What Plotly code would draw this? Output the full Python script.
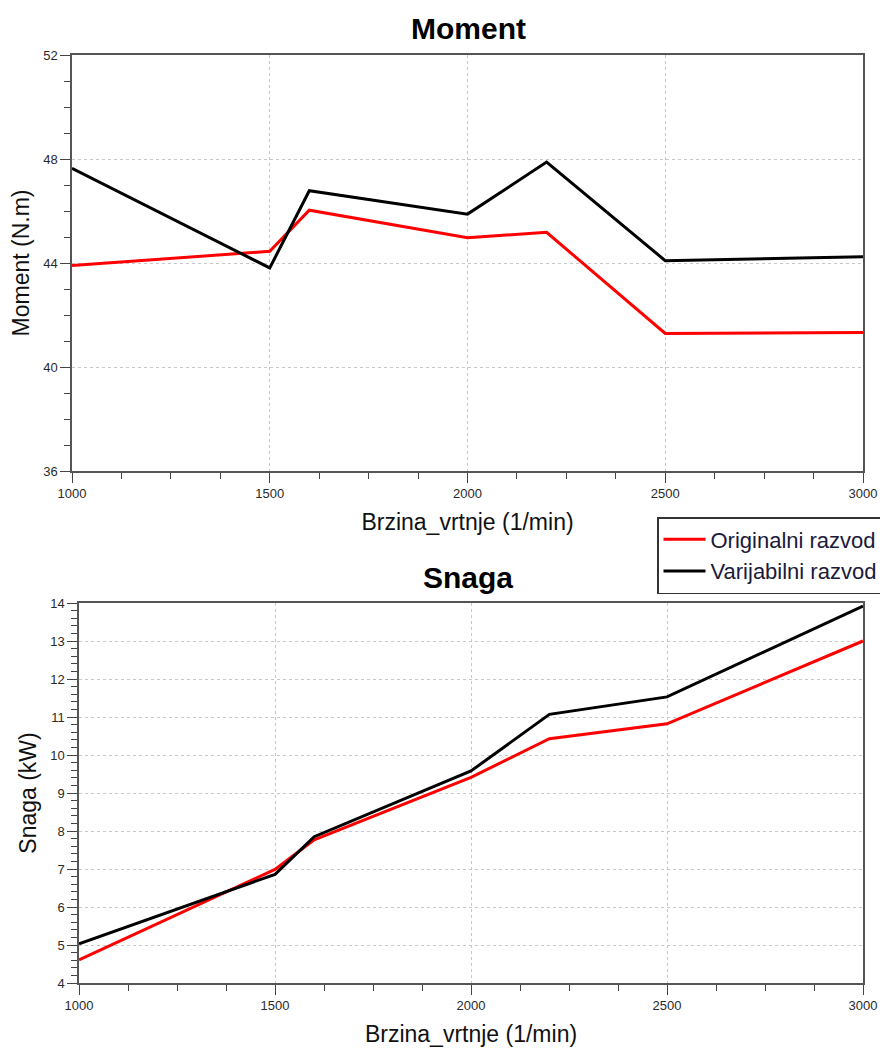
import plotly.graph_objects as go

# ---- data ----
rpm = [1000, 1500, 1600, 2000, 2200, 2500, 3000]
moment_original = [43.90, 44.45, 46.03, 44.97, 45.18, 41.29, 41.33]
moment_varijabilni = [47.64, 43.81, 46.78, 45.88, 47.88, 44.09, 44.24]
snaga_original = [4.61, 6.99, 7.77, 9.41, 10.43, 10.82, 13.00]
snaga_varijabilni = [5.03, 6.86, 7.85, 9.58, 11.07, 11.53, 13.92]
x_ticks = [1000, 1500, 2000, 2500, 3000]
moment_ticks = [36, 40, 44, 48, 52]
snaga_ticks = list(range(4, 15))

OFF = 8  # default page body margin
W, H = 888 - OFF, 1048 - OFF
RED = "#ff0000"
BLACK = "#000000"
FONT = "Liberation Sans, Arial, sans-serif"

fig = go.Figure()
fig.add_trace(go.Scatter(x=rpm, y=moment_original, mode="lines", name="Originalni razvod",
                         line=dict(color=RED, width=3), xaxis="x", yaxis="y"))
fig.add_trace(go.Scatter(x=rpm, y=moment_varijabilni, mode="lines", name="Varijabilni razvod",
                         line=dict(color=BLACK, width=3), xaxis="x", yaxis="y"))
fig.add_trace(go.Scatter(x=rpm, y=snaga_original, mode="lines", name="Originalni razvod",
                         line=dict(color=RED, width=3), xaxis="x2", yaxis="y2", showlegend=False))
fig.add_trace(go.Scatter(x=rpm, y=snaga_varijabilni, mode="lines", name="Varijabilni razvod",
                         line=dict(color=BLACK, width=3), xaxis="x2", yaxis="y2", showlegend=False))

def px_x(p):
    return (p - OFF) / W

def px_y(p):
    return 1 - (p - OFF) / H

axis_common = dict(
    showline=True, linecolor="#555555", linewidth=1.5, mirror=True,
    ticks="outside", ticklen=10, tickwidth=1.2, tickcolor="#444444",
    showgrid=True, gridcolor="#c8c8c8", gridwidth=1, griddash="dot",
    zeroline=False, automargin=False,
    tickfont=dict(family=FONT, size=13, color="#2a2a2a"),
)
TITLE_FONT = dict(family=FONT, size=23, color="#111111")

fig.update_layout(
    width=W, height=H, autosize=False,
    margin=dict(l=0, r=0, t=0, b=0, autoexpand=False),
    paper_bgcolor="white", plot_bgcolor="white",
    font=dict(family=FONT, color="#111111"),
    xaxis=dict(axis_common, domain=[px_x(72), px_x(863)], range=[1000, 3000],
               tickvals=x_ticks, anchor="y",
               minor=dict(dtick=125, tick0=1000, ticklen=6, ticks="outside", tickcolor="#444444", showgrid=False),
               title=dict(text="Brzina_vrtnje (1/min)", font=TITLE_FONT, standoff=14)),
    yaxis=dict(axis_common, domain=[px_y(471), px_y(55)], range=[36, 52],
               tickvals=moment_ticks, anchor="x",
               minor=dict(dtick=1, tick0=36, ticklen=6, ticks="outside", tickcolor="#444444", showgrid=False),
               title=dict(text="Moment (N.m)", font=TITLE_FONT, standoff=8)),
    xaxis2=dict(axis_common, domain=[px_x(79), px_x(863)], range=[1000, 3000],
                tickvals=x_ticks, anchor="y2",
                minor=dict(dtick=125, tick0=1000, ticklen=6, ticks="outside", tickcolor="#444444", showgrid=False),
                title=dict(text="Brzina_vrtnje (1/min)", font=TITLE_FONT, standoff=14)),
    yaxis2=dict(axis_common, domain=[px_y(983), px_y(603)], range=[4, 14],
                tickvals=snaga_ticks, anchor="x2",
                minor=dict(dtick=0.2, tick0=4, ticklen=6, ticks="outside", tickcolor="#444444", showgrid=False),
                title=dict(text="Snaga (kW)", font=TITLE_FONT, standoff=7)),
    legend=dict(xref="container", yref="container", x=px_x(657), y=px_y(517),
                xanchor="left", yanchor="top",
                bordercolor="#333333", borderwidth=1.5, bgcolor="white",
                font=dict(family=FONT, size=22, color="#1a1a3a"),
                itemwidth=42, tracegroupgap=0),
    annotations=[
        dict(text="<b>Moment</b>", xref="paper", yref="paper", x=px_x(468), y=px_y(28),
             xanchor="center", yanchor="middle", showarrow=False,
             font=dict(family=FONT, size=30, color="#000000")),
        dict(text="<b>Snaga</b>", xref="paper", yref="paper", x=px_x(468), y=px_y(577),
             xanchor="center", yanchor="middle", showarrow=False,
             font=dict(family=FONT, size=30, color="#000000")),
    ],
)

fig.write_html("out.html")
